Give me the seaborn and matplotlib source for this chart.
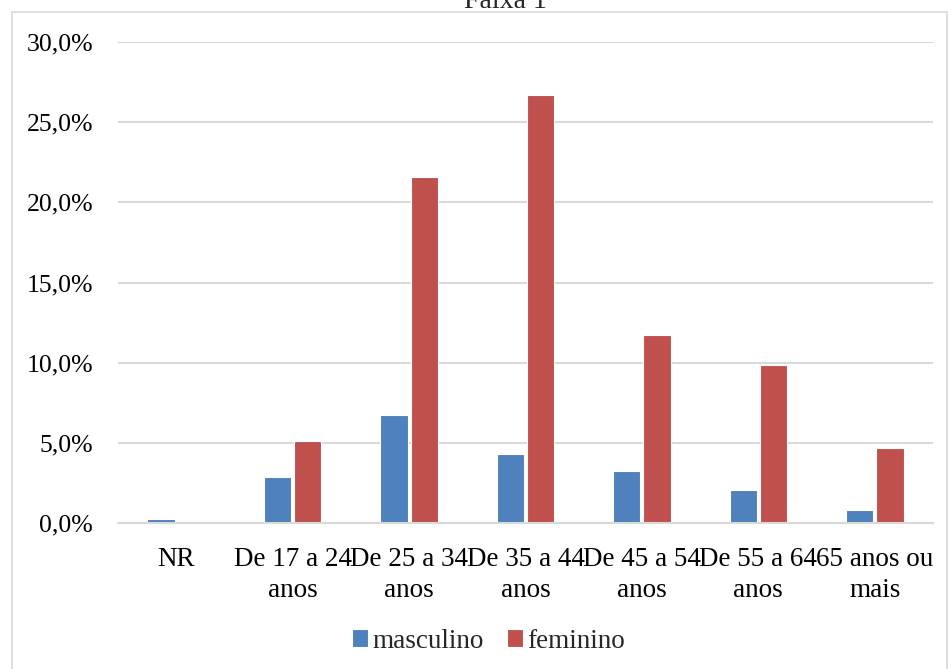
import matplotlib
matplotlib.use("Agg")
import matplotlib.pyplot as plt
from matplotlib.patches import Rectangle
from matplotlib.ticker import FuncFormatter, MultipleLocator
import seaborn as sns
import pandas as pd

categories = ["NR", "De 17 a 24\nanos", "De 25 a 34\nanos", "De 35 a 44\nanos",
              "De 45 a 54\nanos", "De 55 a 64\nanos", "65 anos ou\nmais"]
masculino = [0.25, 2.87, 6.75, 4.3, 3.25, 2.03, 0.8]
feminino = [0.0, 5.1, 21.6, 26.7, 11.7, 9.86, 4.69]
series_names = ["masculino", "feminino"]
title = "Faixa 1"

df = pd.DataFrame({
    "cat": categories * 2,
    "val": masculino + feminino,
    "sexo": [series_names[0]] * len(categories) + [series_names[1]] * len(categories),
})

sns.set_theme(style="white")
plt.rcParams["font.family"] = ["Liberation Serif", "DejaVu Serif"]

fig = plt.figure(figsize=(9.48, 6.69), dpi=100)
ax = fig.add_axes([118 / 948, 1 - 523 / 669, (933 - 118) / 948, (523 - 42) / 669])

sns.barplot(data=df, x="cat", y="val", hue="sexo", order=categories,
            hue_order=series_names, palette=["#4F81BD", "#C0504D"],
            width=0.52, gap=0.1, ax=ax, legend=True,
            edgecolor="white", linewidth=0.8, saturation=1)

ax.set_ylim(0, 30)
ax.set_xlim(-0.5, len(categories) - 0.5)
ax.yaxis.set_major_locator(MultipleLocator(5))
ax.yaxis.set_major_formatter(FuncFormatter(lambda v, p: f"{v:.1f}%".replace(".", ",")))
ax.grid(axis="y", color="#D9D9D9", linewidth=1.5)
ax.set_axisbelow(True)
for s in ["top", "right", "left"]:
    ax.spines[s].set_visible(False)
ax.spines["bottom"].set_color("#D9D9D9")
ax.spines["bottom"].set_linewidth(1.5)
ax.tick_params(axis="y", length=0, labelsize=18.5, colors="black", pad=18)
ax.tick_params(axis="x", length=0, labelsize=19.5, colors="black", pad=17)
ax.set_xlabel("")
ax.set_ylabel("")
for lbl in ax.get_xticklabels():
    lbl.set_linespacing(1.35)

handles, labels = ax.get_legend_handles_labels()
ax.get_legend().remove()
fig.legend(handles, labels, loc="center", bbox_to_anchor=(0.515, 1 - 641 / 669),
           ncol=2, frameon=False, fontsize=19.5, handlelength=0.6, handleheight=0.6,
           handletextpad=0.15, columnspacing=0.85)

fig.text(0.533, 1 - 8 / 669, title, ha="center", va="baseline", fontsize=20)

fig.patches.append(Rectangle((12 / 948, -0.05), 935 / 948, 1.05 - 12 / 669,
                             transform=fig.transFigure, fill=False,
                             edgecolor="#D9D9D9", linewidth=1.2, zorder=-1))

fig.savefig("out.png", dpi=100, facecolor="white")
